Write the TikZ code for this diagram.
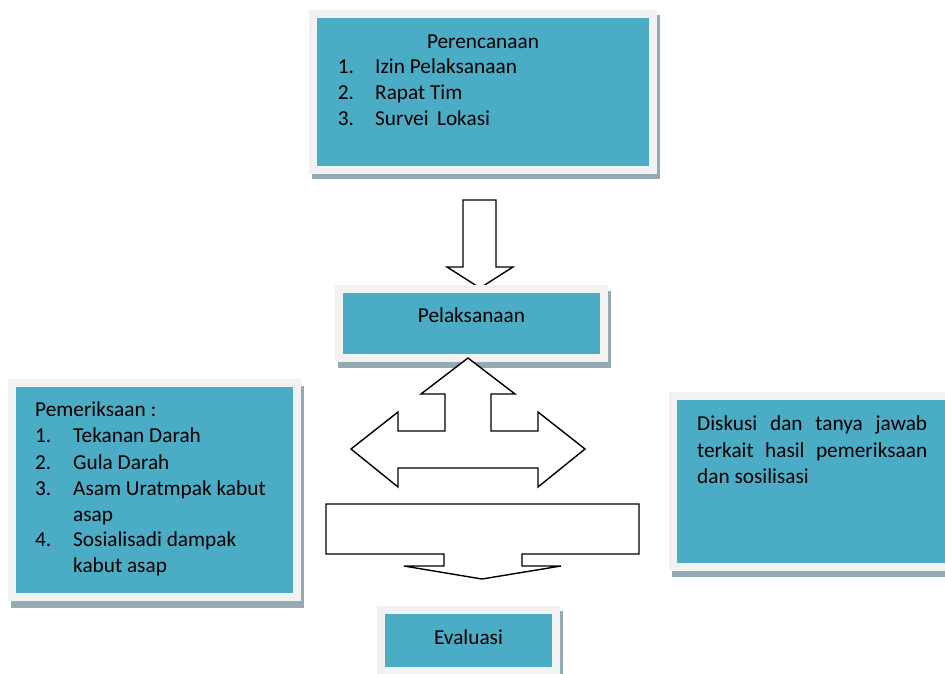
\documentclass[tikz,border=0pt]{standalone}
\usepackage{fontspec}
\setmainfont{Carlito}
\definecolor{tealfill}{HTML}{4BACC6}
\definecolor{framegrey}{HTML}{F2F2F2}
\definecolor{shadowgrey}{HTML}{93AAB4}
\tikzset{
  shadowrect/.style={fill=shadowgrey, draw=none},
  framerect/.style={fill=framegrey, draw=none},
  tealrect/.style={fill=tealfill, draw=none},
  blockarrow/.style={draw=black, fill=white, line width=1.4pt, line join=miter},
  txt/.style={anchor=base west, inner sep=0pt, font=\fontsize{21.3}{26}\selectfont},
  ctxt/.style={anchor=base, inner sep=0pt, font=\fontsize{21.3}{26}\selectfont}
}
\newcommand\mybox[9]{%
  % #1 name, teal x1,y1,x2,y2 = #2..#5, frame margin #6, shadow dx #7, dy #8, extra #9
  \fill[shadowrect] (#2-#6+#7,#3-#6+#8) rectangle (#4+#6+#7,#5+#6+#8);
  \fill[framerect] (#2-#6,#3-#6) rectangle (#4+#6,#5+#6);
  \node[tealrect, inner sep=0pt, anchor=north west, minimum width=#4-#2, minimum height=#5-#3] (#1) at (#2,#3) {};
}
\begin{document}
\begin{tikzpicture}[x=1pt,y=-1pt]
\useasboundingbox (0,0) rectangle (945,674);
\clip (0,0) rectangle (945,674);

% top box
\mybox{plan}{317}{18}{649}{166}{8}{3}{5}{}
\node[ctxt] (plant) at (483,48.3) {Perencanaan};
\node[txt] (p1n) at (337.7,74) {1.};
\node[txt] (p1) at (375,74) {Izin Pelaksanaan};
\node[txt] (p2n) at (337.7,100) {2.};
\node[txt] (p2) at (375,100) {Rapat Tim};
\node[txt] (p3n) at (337.7,125.7) {3.};
\node[txt] (p3) at (375,125.7) {Survei\, Lokasi};

% down arrow
\draw[blockarrow] (463,200) -- (496,200) -- (496,267) -- (513,267) -- (480,288) -- (447,267) -- (463,267) -- cycle;

% pelaksanaan
\mybox{pel}{343}{293}{600}{354}{8}{3}{6}{}
\node[ctxt] (pelt) at (471.5,322.7) {Pelaksanaan};

% three-way arrow
\draw[blockarrow] (468,358) -- (515,394) -- (491,394) -- (491,431) -- (538,431) -- (538,412) -- (585,449)
  -- (538,487) -- (538,468) -- (398,468) -- (398,487) -- (351,449) -- (398,412) -- (398,431)
  -- (445,431) -- (445,394) -- (421,394) -- cycle;

% callout down arrow
\draw[blockarrow] (326,504) -- (639,504) -- (639,554) -- (522,554) -- (522,566) -- (561,566) -- (482,579)
  -- (404,566) -- (444,566) -- (444,554) -- (326,554) -- cycle;

% left box
\mybox{pem}{16}{387}{293}{593}{8}{3}{7}{}
\node[txt] (pemt) at (35,416) {Pemeriksaan :};
\node[txt] (e1n) at (35,442.7) {1.};
\node[txt] (e1) at (73,442.7) {Tekanan Darah};
\node[txt] (e2n) at (35,469) {2.};
\node[txt] (e2) at (73,469) {Gula Darah};
\node[txt] (e3n) at (35,495) {3.};
\node[txt] (e3) at (73,495) {Asam Uratmpak kabut};
\node[txt] (e3b) at (73,521) {asap};
\node[txt] (e4n) at (35,546.7) {4.};
\node[txt] (e4) at (73,546.7) {Sosialisadi dampak};
\node[txt] (e4b) at (73,572.7) {kabut asap};

% right box
\mybox{disk}{677}{400}{960}{563}{8}{3}{6}{}
\node[anchor=base west, inner sep=0pt, font=\fontsize{21.3}{26.5}\selectfont] (diskt) at (697,430.7)
  {\parbox[t]{230pt}{\parindent=0pt Diskusi dan tanya jawab\linebreak terkait hasil pemeriksaan\linebreak dan sosilisasi}};

% evaluasi
\mybox{eval}{385}{614}{552}{667}{8}{3}{5}{}
\node[ctxt] (evalt) at (468.5,644.3) {Evaluasi};
\end{tikzpicture}
\end{document}
